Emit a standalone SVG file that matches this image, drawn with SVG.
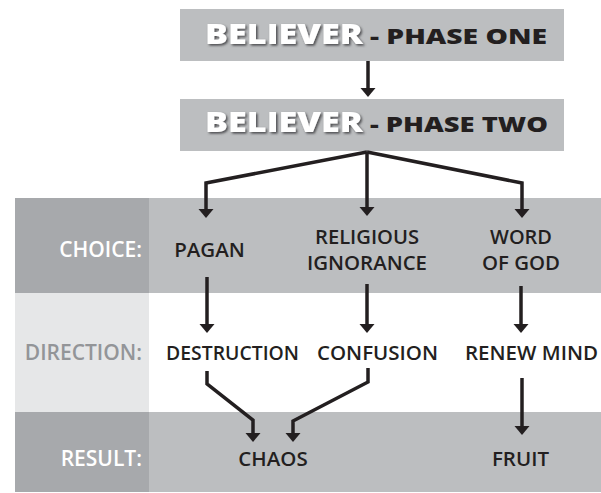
<svg xmlns="http://www.w3.org/2000/svg" width="601" height="493" viewBox="0 0 601 493">
<style>
.box{fill:#bcbec0}
.lab{fill:#a7a9ac}
.labl{fill:#e6e7e8}
.row{fill:#bcbec0}
.bel{font-family:"Open Sans","Liberation Sans",sans-serif;font-weight:800;font-size:29px;fill:#ffffff}
.ph{font-family:"Open Sans","Liberation Sans",sans-serif;font-weight:800;font-size:21px;fill:#231f20}
.t{font-family:"Open Sans","Liberation Sans",sans-serif;font-weight:600;font-size:20.5px;fill:#231f20;text-anchor:middle}
.t2{font-size:19px}
.l{font-family:"Open Sans","Liberation Sans",sans-serif;font-weight:600;font-size:21px;text-anchor:end}
.w{fill:#ffffff}
.g{fill:#939598}
.c{fill:none;stroke:#231f20;stroke-width:3.5;stroke-linejoin:miter;marker-end:url(#ah)}
</style>
<defs>
<marker id="ah" markerUnits="userSpaceOnUse" markerWidth="12" markerHeight="16" viewBox="0 -8 10 16" refX="0" refY="0" orient="auto">
<path d="M0,-7.5 L9,0 L0,7.5 Z" fill="#231f20"/>
</marker>
<filter id="sh" x="-10%" y="-20%" width="130%" height="160%">
<feDropShadow dx="1.6" dy="1.6" stdDeviation="0.9" flood-color="#414042" flood-opacity="0.9"/>
</filter>
</defs>

<g id="table">
<rect class="lab" x="15" y="198" width="134" height="95"/>
<rect class="row" x="149" y="198" width="452" height="95"/>
<rect class="labl" x="15" y="293" width="134" height="119"/>
<rect fill="#ffffff" x="149" y="293" width="452" height="119"/>
<rect class="lab" x="15" y="412" width="134" height="80"/>
<rect class="row" x="149" y="412" width="452" height="80"/>
</g>

<g id="phase-one">
<rect class="box" x="180" y="9" width="384" height="52"/>
<text class="bel" x="205" y="44" textLength="158" lengthAdjust="spacingAndGlyphs" filter="url(#sh)">BELIEVER</text>
<text class="ph" x="370" y="44" textLength="177" lengthAdjust="spacingAndGlyphs">- PHASE ONE</text>
</g>
<g id="phase-two">
<rect class="box" x="180" y="99" width="384" height="52"/>
<text class="bel" x="205" y="132" textLength="158" lengthAdjust="spacingAndGlyphs" filter="url(#sh)">BELIEVER</text>
<text class="ph" x="370" y="132" textLength="178" lengthAdjust="spacingAndGlyphs">- PHASE TWO</text>
</g>

<g id="label-choice"><text class="l w" x="142" y="257">CHOICE:</text></g>
<g id="label-direction"><text class="l g" x="142" y="360">DIRECTION:</text></g>
<g id="label-result"><text class="l w" x="142" y="466">RESULT:</text></g>

<g id="pagan"><text class="t" x="209.5" y="257">PAGAN</text></g>
<g id="religious-ignorance">
<text class="t t2" x="367" y="244" textLength="104" lengthAdjust="spacingAndGlyphs">RELIGIOUS</text>
<text class="t t2" x="367" y="270" textLength="120" lengthAdjust="spacingAndGlyphs">IGNORANCE</text>
</g>
<g id="word-of-god">
<text class="t t2" x="521" y="244" textLength="62" lengthAdjust="spacingAndGlyphs">WORD</text>
<text class="t t2" x="521" y="270" textLength="78" lengthAdjust="spacingAndGlyphs">OF GOD</text>
</g>
<g id="destruction"><text class="t" x="232.5" y="360" textLength="133" lengthAdjust="spacingAndGlyphs">DESTRUCTION</text></g>
<g id="confusion"><text class="t" x="377.5" y="360">CONFUSION</text></g>
<g id="renew-mind"><text class="t" x="531.5" y="360">RENEW MIND</text></g>
<g id="chaos"><text class="t" x="273" y="466">CHAOS</text></g>
<g id="fruit"><text class="t" x="520.5" y="466">FRUIT</text></g>

<g id="connectors">
<path class="c" d="M368,61 V88"/>
<path class="c" d="M367,152 L206,183 V209"/>
<path class="c" d="M367,152 V207"/>
<path class="c" d="M367,152 L522,183 V209"/>
<path class="c" d="M207,277 V324"/>
<path class="c" d="M367,284 V324"/>
<path class="c" d="M521,286 V324"/>
<path class="c" d="M207,371 V384 L253,420 V433"/>
<path class="c" d="M368,368 V382 L293,421 V433"/>
<path class="c" d="M522,378 V426"/>
</g>
</svg>
